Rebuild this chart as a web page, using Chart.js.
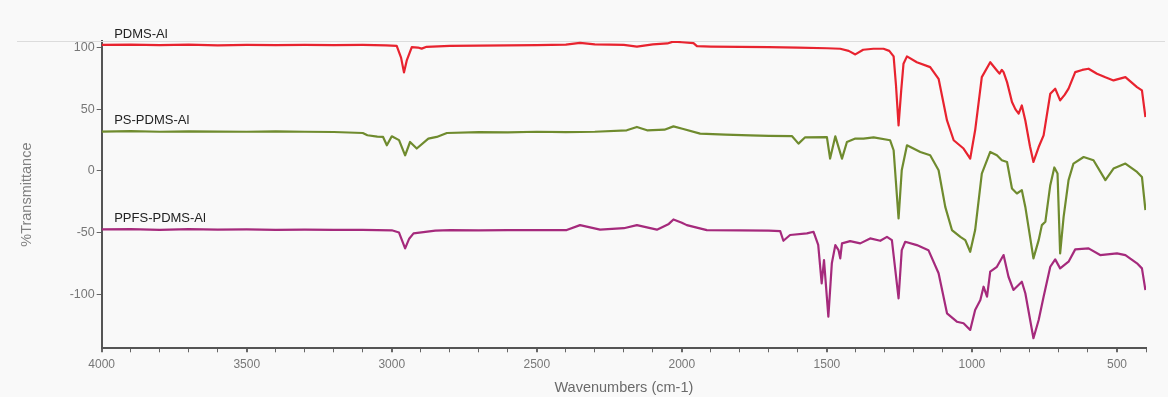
<!DOCTYPE html>
<html>
<head>
<meta charset="utf-8">
<title>FTIR spectra</title>
<script src="https://cdn.jsdelivr.net/npm/chart.js@4"></script>
<style>
  html, body { margin: 0; padding: 0; background: #f9f9f9; }
  #wrap { width: 1168px; height: 397px; }
</style>
</head>
<body>
<div id="wrap"><canvas id="ftir" width="1168" height="397"></canvas></div>
<script>
// Series names
const seriesNames = ['PDMS-Al', 'PS-PDMS-Al', 'PPFS-PDMS-Al'];

// PDMS-Al spectrum: wavenumber (cm-1) and %T
const pdmsWave = [4000,3900,3800,3700,3600,3500,3400,3300,3200,3100,3020,2983,2968,2958,2948,2931,2910,2897,2880,2800,2700,2600,2500,2400,2351,2300,2200,2155,2100,2050,2030,2000,1960,1948,1900,1800,1700,1600,1500,1454,1425,1402,1375,1340,1305,1285,1270,1262,1253,1244,1236,1224,1190,1144,1115,1086,1063,1029,1006,989,966,937,914,905,897,891,879,862,850,839,828,816,800,788,770,753,730,713,696,680,667,644,620,598,569,540,512,471,431,414,402];
const pdmsT = [102.3,102.6,102.2,102.5,102.0,102.3,102.1,102.4,102.2,102.3,102.0,101.5,92,80,90,100.5,100.2,99.3,100.8,101.5,101.8,102.0,102.2,102.5,104,102.8,102.3,101,102.8,103.5,105,104.5,103.8,101.3,101.0,100.8,100.5,100.2,99.6,99.2,97.5,94.6,98.4,99.2,99.2,97.5,93,70,37,65,87,93,88.3,84.3,74.8,41,24.9,18.2,10,33,76.2,88.3,81.6,79,82,80.2,72.1,56,50,46.5,53.2,41,20,7.3,19.4,28.9,62.7,66.8,57.3,62,66.8,80.2,82,83,78.9,76,73.5,76.2,68.1,65.4,43.8];

// PS-PDMS-Al spectrum
const psWave = [4000,3900,3800,3700,3600,3500,3400,3300,3200,3100,3084,3050,3030,3017,3000,2975,2954,2937,2914,2874,2845,2810,2700,2600,2500,2400,2300,2190,2155,2120,2060,2029,1995,1937,1850,1765,1700,1620,1598,1575,1500,1489,1471,1448,1431,1402,1374,1339,1282,1270,1253,1242,1224,1178,1144,1115,1092,1069,1040,1023,1006,989,966,937,914,897,879,862,845,828,816,788,770,759,747,730,716,705,696,684,667,650,615,581,540,512,471,431,414,402];
const psT = [32,32.3,31.8,32.2,32.0,31.8,32.1,31.8,31.6,30.8,29,27.8,27.6,20.8,28.1,25,12.7,23.5,18.2,26.2,27.6,30.8,31.5,31.3,31.8,31.5,31.8,33,35.7,33,33.5,36.2,34,30.3,29.5,28.9,28.5,28.2,22.2,27.3,27.5,10,28.1,10,23.5,26.3,26.2,27.3,24.9,16.8,-38.6,0.6,20.8,15.4,12.7,0.6,-29.2,-48,-53.5,-56.2,-65.6,-48,-2.1,15.4,12.7,8.7,7.3,-14.3,-18.3,-15.6,-29.2,-71,-56.2,-44,-41.3,-11.6,2.8,-2.1,-67,-37.3,-7.5,6,11.3,8.7,-7.5,1.9,6,-0.8,-4.9,-31.8];

// PPFS-PDMS-Al spectrum
const ppfsWave = [4000,3900,3800,3700,3600,3500,3400,3300,3200,3100,3000,2975,2954,2940,2925,2850,2798,2700,2600,2500,2397,2351,2282,2200,2155,2086,2045,2029,2000,1983,1914,1800,1700,1661,1650,1627,1569,1546,1530,1518,1510,1495,1483,1471,1460,1454,1448,1420,1385,1351,1316,1293,1276,1253,1242,1230,1190,1150,1115,1086,1052,1029,1006,989,971,960,948,937,914,891,874,857,828,816,788,770,753,730,713,696,667,644,598,558,500,471,431,414,402];
const ppfsT = [-47.5,-47.2,-47.8,-47.3,-47.6,-47.5,-47.8,-47.6,-47.8,-47.9,-48.2,-50,-62.9,-55,-50.7,-48.5,-48,-48.2,-48,-48,-48,-44,-47.7,-46.5,-44,-47.7,-43,-39.4,-42,-44,-48,-48.3,-48.5,-48.9,-56.7,-52,-50.7,-49.4,-60,-91.3,-72.4,-118.3,-75,-60.2,-64.3,-71,-58.8,-57,-58.8,-54.8,-56.7,-53.5,-56.2,-103.4,-64.3,-57.5,-60.2,-64.3,-83.1,-115.6,-122.4,-123.7,-129.1,-112.9,-104.8,-94,-102.1,-81.8,-77.8,-68.3,-85.9,-96.6,-90,-99.3,-135.8,-121,-102.1,-77.8,-71.8,-79.1,-73.7,-63.7,-62.9,-68.3,-66.9,-68.3,-75,-79.1,-96.7];

// Axis ticks
const yTickValues = [-100, -50, 0, 50, 100];
const xLabelStep = 500;
const xMinorStep = 100;

const lineColors = ['#e8232f', '#6f8b2e', '#a52a7c'];
const axisFont = '"Liberation Sans", Arial, sans-serif';

const toPoints = (xs, ys) => xs.map((x, i) => ({ x: x, y: ys[i] }));

// Writes each series name just above the start of its trace
const seriesLabels = {
  id: 'seriesLabels',
  afterDatasetsDraw(chart) {
    const { ctx, scales } = chart;
    ctx.save();
    ctx.font = '13px "Liberation Sans", Arial, sans-serif';
    ctx.fillStyle = '#222';
    ctx.textBaseline = 'middle';
    ctx.textAlign = 'left';
    chart.data.datasets.forEach((ds) => {
      const first = ds.data[0];
      const px = scales.x.getPixelForValue(3957);
      const py = scales.y.getPixelForValue(first.y) - 11;
      ctx.fillText(ds.label, px, py);
    });
    ctx.restore();
  }
};

// Thin rule across the top of the plot
const topRule = {
  id: 'topRule',
  beforeDatasetsDraw(chart) {
    const { ctx, chartArea } = chart;
    ctx.save();
    ctx.strokeStyle = '#dcdcdc';
    ctx.lineWidth = 1;
    ctx.beginPath();
    ctx.moveTo(17, Math.round(chartArea.top) + 0.5);
    ctx.lineTo(1165, Math.round(chartArea.top) + 0.5);
    ctx.stroke();
    ctx.restore();
  }
};

new Chart(document.getElementById('ftir'), {
  type: 'line',
  data: {
    datasets: [
      { label: seriesNames[0], data: toPoints(pdmsWave, pdmsT), borderColor: lineColors[0] },
      { label: seriesNames[1], data: toPoints(psWave, psT), borderColor: lineColors[1] },
      { label: seriesNames[2], data: toPoints(ppfsWave, ppfsT), borderColor: lineColors[2] }
    ]
  },
  options: {
    responsive: false,
    animation: false,
    parsing: false,
    layout: { padding: { top: 41, right: 22, bottom: 0, left: 0 } },
    elements: {
      line: { borderWidth: 2.2, tension: 0, borderJoinStyle: 'round' },
      point: { radius: 0 }
    },
    plugins: { legend: { display: false }, tooltip: { enabled: false } },
    scales: {
      x: {
        type: 'linear',
        reverse: true,
        min: 400,
        max: 4000,
        afterBuildTicks(scale) {
          const t = [];
          for (let v = 4000; v >= 400; v -= xMinorStep) t.push({ value: v });
          scale.ticks = t;
        },
        afterFit(scale) { scale.height = 48.7; },
        border: { display: true, color: '#555', width: 2 },
        grid: {
          drawOnChartArea: false,
          drawTicks: true,
          tickLength: 4,
          color: '#666',
          lineWidth: (c) => (c.tick && c.tick.value % xLabelStep === 0 ? 2 : 1)
        },
        ticks: {
          autoSkip: false,
          maxRotation: 0,
          padding: 5,
          color: '#777',
          font: { family: axisFont, size: 12 },
          callback: (v) => (v % xLabelStep === 0 ? String(v) : '')
        },
        title: {
          display: true,
          text: 'Wavenumbers (cm-1)',
          color: '#6a6a6a',
          font: { family: axisFont, size: 14.5 },
          padding: { top: 0, bottom: 0 }
        }
      },
      y: {
        type: 'linear',
        min: -144,
        max: 105.5,
        afterBuildTicks(scale) { scale.ticks = yTickValues.map((v) => ({ value: v })); },
        afterFit(scale) { scale.width = 101.7; },
        border: { display: true, color: '#555', width: 2 },
        grid: { drawOnChartArea: false, drawTicks: true, tickLength: 5, color: '#666' },
        ticks: {
          padding: 2,
          color: '#777',
          font: { family: axisFont, size: 12.5 }
        },
        title: {
          display: true,
          text: '%Transmittance',
          color: '#808080',
          font: { family: axisFont, size: 14.5 },
          padding: { top: 18, bottom: 0 }
        }
      }
    }
  },
  plugins: [topRule, seriesLabels]
});
</script>
</body>
</html>
